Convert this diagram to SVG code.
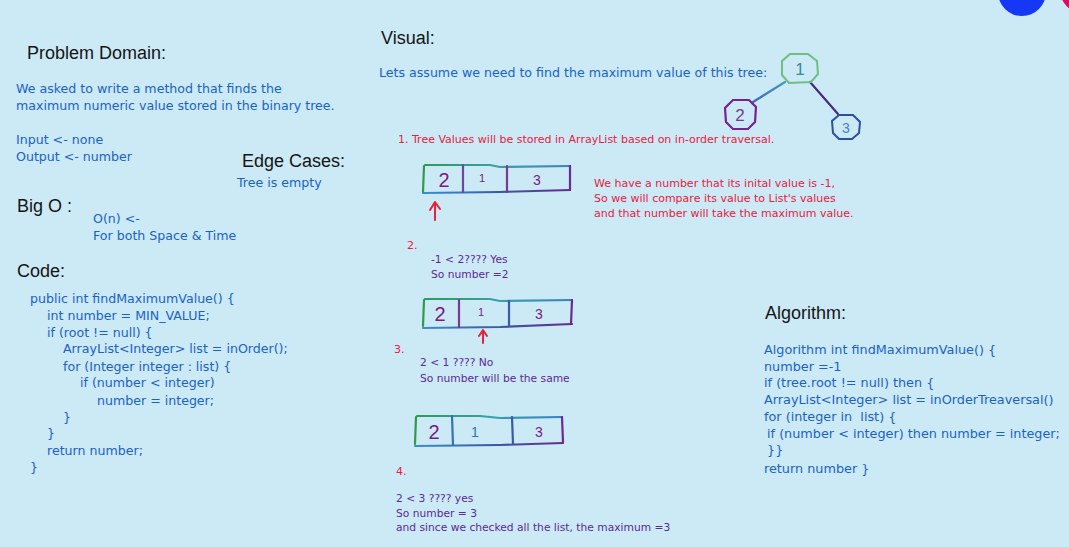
<svg xmlns="http://www.w3.org/2000/svg" width="1069" height="547" viewBox="0 0 1069 547">
  <defs>
    <style>
      .h { font-family: "Liberation Sans", Arial, sans-serif; font-size: 18px; fill: #151515; }
      .b { font-family: "DejaVu Sans", "Liberation Sans", sans-serif; font-size: 12.6px; fill: #1a63c4; }
      .a { font-family: "DejaVu Sans", "Liberation Sans", sans-serif; font-size: 12.8px; fill: #1a63c4; }
      .r { font-family: "DejaVu Sans", "Liberation Sans", sans-serif; font-size: 11px; fill: #e8203c; }
      .p { font-family: "DejaVu Sans", "Liberation Sans", sans-serif; font-size: 10.7px; fill: #5b2a93; }
      .num { font-family: "Liberation Sans", Arial, sans-serif; fill: #7a1a80; text-anchor: middle; }
      .box { fill: none; stroke-width: 2.2; stroke-linecap: round; stroke-linejoin: round; }
      .arrow { fill: none; stroke: #e8203c; stroke-width: 2; stroke-linecap: round; stroke-linejoin: round; }
      .edge { fill: none; stroke-width: 2.2; stroke-linecap: round; }
    </style>
    <linearGradient id="gTop" x1="0" y1="0" x2="1" y2="0">
      <stop offset="0" stop-color="#2f9a5a"/>
      <stop offset="0.5" stop-color="#3aa0a8"/>
      <stop offset="1" stop-color="#3a80c8"/>
    </linearGradient>
    <linearGradient id="gBot" x1="0" y1="0" x2="1" y2="0">
      <stop offset="0" stop-color="#3a90d0"/>
      <stop offset="0.5" stop-color="#3a5aa8"/>
      <stop offset="1" stop-color="#6a2a90"/>
    </linearGradient>
    <linearGradient id="gE12" x1="0" y1="0" x2="1" y2="0">
      <stop offset="0" stop-color="#3a6ab8"/>
      <stop offset="1" stop-color="#4a9ac0"/>
    </linearGradient>
  </defs>

  <rect x="0" y="0" width="1069" height="547" fill="#cce9f6"/>
  <circle cx="1022" cy="-8" r="24" fill="#1438f5"/>
  <circle cx="1083" cy="-10" r="23" fill="#d4105c"/>

  <g id="problem-domain">
    <text class="h" x="27" y="59">Problem Domain:</text>
    <text class="b" x="16" y="93">We asked to write a method that finds the</text>
    <text class="b" x="16" y="110">maximum numeric value stored in the binary tree.</text>
    <text class="b" x="16" y="144">Input &lt;- none</text>
    <text class="b" x="16" y="161">Output &lt;- number</text>
  </g>

  <g id="edge-cases">
    <text class="h" x="242" y="167">Edge Cases:</text>
    <text class="b" x="237" y="187">Tree is empty</text>
  </g>

  <g id="big-o">
    <text class="h" x="17" y="212">Big O :</text>
    <text class="b" x="93" y="223">O(n) &lt;-</text>
    <text class="b" x="93" y="240">For both Space &amp; Time</text>
  </g>

  <g id="code">
    <text class="h" x="17" y="277">Code:</text>
    <text class="b" x="30" y="303">public int findMaximumValue() {</text>
    <text class="b" x="47" y="320">int number = MIN_VALUE;</text>
    <text class="b" x="47" y="337">if (root != null) {</text>
    <text class="b" x="63" y="353">ArrayList&lt;Integer&gt; list = inOrder();</text>
    <text class="b" x="63" y="371">for (Integer integer : list) {</text>
    <text class="b" x="80" y="387">if (number &lt; integer)</text>
    <text class="b" x="97" y="405">number = integer;</text>
    <text class="b" x="63" y="422">}</text>
    <text class="b" x="47" y="438">}</text>
    <text class="b" x="47" y="455">return number;</text>
    <text class="b" x="30" y="472">}</text>
  </g>

  <g id="visual">
    <text class="h" x="381" y="44">Visual:</text>
    <text class="b" x="379" y="77">Lets assume we need to find the maximum value of this tree:</text>
    <text class="r" x="398" y="143">1. Tree Values will be stored in ArrayList based on in-order traversal.</text>
  </g>

  <g id="connectors">
    <line class="edge" x1="785" y1="82" x2="753" y2="102" stroke="url(#gE12)"/>
    <line class="edge" x1="810" y1="82" x2="838" y2="114" stroke="#4a2a80"/>
  </g>

  <g id="node-1">
    <polygon points="790,54 808,54 817,61 818,74 811,82 789,83 782,75 782,61" fill="none" stroke="#6cc080" stroke-width="2"/>
    <text class="num" x="800" y="75" font-size="17" style="fill:#3a8a9a">1</text>
  </g>
  <g id="node-2">
    <polygon points="733,100 749,100 756,107 755,122 748,129 733,129 726,122 725,108" fill="none" stroke="#7a2090" stroke-width="2.2"/>
    <text class="num" x="740" y="121" font-size="17" style="fill:#7a3a8a">2</text>
  </g>
  <g id="node-3">
    <polygon points="839,115 853,115 860,122 859,133 852,139 839,139 833,133 832,121" fill="none" stroke="#2a50a0" stroke-width="2"/>
    <text class="num" x="846" y="133" font-size="14" style="fill:#3a88c0">3</text>
  </g>

  <g id="array-1">
    <path class="box" d="M425,165 L490,165 L500,167 L570,166" stroke="url(#gTop)"/>
    <path class="box" d="M423,193 L500,192 L570,190" stroke="url(#gBot)"/>
    <line class="box" x1="424" y1="166" x2="423" y2="192" stroke="#2f9a4a"/>
    <line class="box" x1="570" y1="166" x2="570" y2="190" stroke="#6a2a90"/>
    <line class="box" x1="463" y1="165" x2="463" y2="192" stroke="#6a4aa0"/>
    <line class="box" x1="507" y1="166" x2="507" y2="192" stroke="#7a3a90"/>
    <text class="num" x="444" y="187" font-size="20">2</text>
    <text class="num" x="482" y="182" font-size="11">1</text>
    <text class="num" x="537" y="185" font-size="14">3</text>
    <path class="arrow" d="M435,220 L435,203 M430,210 L435,202 L440,209"/>
  </g>

  <g id="explanation">
    <text class="r" x="594" y="187">We have a number that its inital value is -1,</text>
    <text class="r" x="594" y="202">So we will compare its value to List's values</text>
    <text class="r" x="594" y="217">and that number will take the maximum value.</text>
  </g>

  <g id="step-2">
    <text class="r" x="407" y="249">2.</text>
    <text class="p" x="431" y="263">-1 &lt; 2???? Yes</text>
    <text class="p" x="431" y="278">So number =2</text>
  </g>

  <g id="array-2">
    <path class="box" d="M425,299 L490,299 L500,301 L572,300" stroke="url(#gTop)"/>
    <path class="box" d="M423,328 L500,327 L572,324" stroke="url(#gBot)"/>
    <line class="box" x1="424" y1="300" x2="423" y2="326" stroke="#2f9a4a"/>
    <line class="box" x1="572" y1="300" x2="571" y2="324" stroke="#6a2a90"/>
    <line class="box" x1="459" y1="300" x2="459" y2="327" stroke="#7a3a90"/>
    <line class="box" x1="509" y1="301" x2="509" y2="326" stroke="#3a5aa8"/>
    <text class="num" x="440" y="321" font-size="20">2</text>
    <text class="num" x="481" y="316" font-size="11">1</text>
    <text class="num" x="539" y="319" font-size="14">3</text>
    <path class="arrow" d="M483,343 L483,331 M479,336 L483,330 L487,336"/>
  </g>

  <g id="step-3">
    <text class="r" x="394" y="353">3.</text>
    <text class="p" x="420" y="366">2 &lt; 1 ???? No</text>
    <text class="p" x="420" y="382">So number will be the same</text>
  </g>

  <g id="array-3">
    <path class="box" d="M417,416 L480,416 L500,418 L562,417" stroke="url(#gTop)"/>
    <path class="box" d="M415,446 L500,445 L563,443" stroke="url(#gBot)"/>
    <line class="box" x1="416" y1="417" x2="415" y2="444" stroke="#2f9a4a"/>
    <line class="box" x1="562" y1="417" x2="563" y2="442" stroke="#6a2a90"/>
    <line class="box" x1="452" y1="416" x2="453" y2="445" stroke="#3a70b0"/>
    <line class="box" x1="512" y1="417" x2="513" y2="444" stroke="#3a5aa8"/>
    <text class="num" x="434" y="439" font-size="20">2</text>
    <text class="num" x="475" y="437" font-size="14" style="fill:#3a70b0">1</text>
    <text class="num" x="539" y="437" font-size="14">3</text>
  </g>

  <g id="step-4">
    <text class="r" x="396" y="475">4.</text>
    <text class="p" x="396" y="502">2 &lt; 3 ???? yes</text>
    <text class="p" x="396" y="517">So number = 3</text>
    <text class="p" x="396" y="531">and since we checked all the list, the maximum =3</text>
  </g>

  <g id="algorithm">
    <text class="h" x="765" y="319">Algorithm:</text>
    <text class="a" x="764" y="354">Algorithm int findMaximumValue() {</text>
    <text class="a" x="764" y="371">number =-1</text>
    <text class="a" x="764" y="387">if (tree.root != null) then {</text>
    <text class="a" x="764" y="404">ArrayList&lt;Integer&gt; list = inOrderTreaversal()</text>
    <text class="a" x="764" y="421" style="white-space:pre">for (integer in  list) {</text>
    <text class="a" x="767" y="438">if (number &lt; integer) then number = integer;</text>
    <text class="a" x="767" y="454">}}</text>
    <text class="a" x="764" y="473">return number }</text>
  </g>
</svg>
